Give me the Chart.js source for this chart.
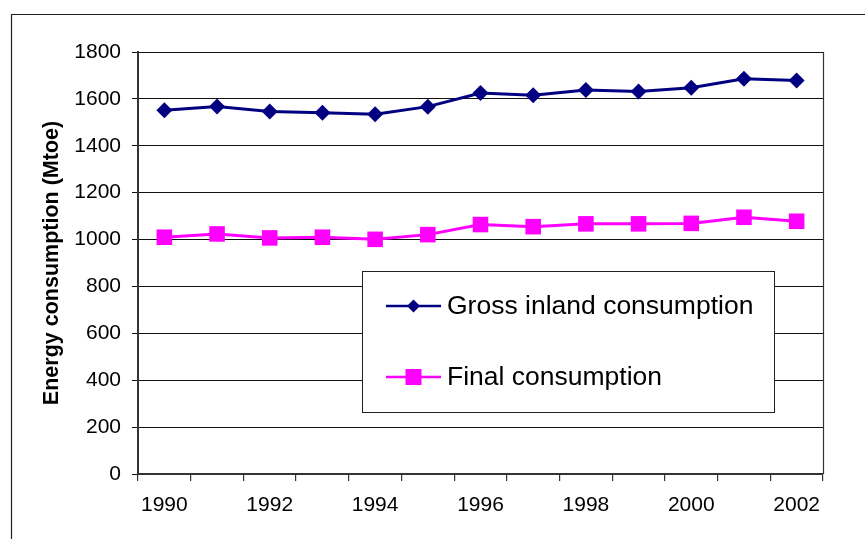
<!DOCTYPE html>
<html>
<head>
<meta charset="utf-8">
<script src="https://cdn.jsdelivr.net/npm/chart.js@4/dist/chart.umd.min.js"></script>
<style>
  html, body { margin: 0; padding: 0; background: #fff; }
  #wrap { position: relative; width: 865px; height: 539px; }
</style>
</head>
<body>
<div id="wrap"><canvas id="c" width="865" height="539"></canvas></div>
<script>
const years = ['1990','1991','1992','1993','1994','1995','1996','1997','1998','1999','2000','2001','2002'];
const grossInland = [1552, 1568, 1546, 1541, 1535, 1567, 1625, 1616, 1638, 1632, 1648, 1686, 1678];
const finalCons = [1010, 1024, 1007, 1010, 1001, 1021, 1064, 1055, 1067, 1067, 1069, 1095, 1078];
const seriesNames = ['Gross inland consumption', 'Final consumption'];
const yTitle = 'Energy consumption (Mtoe)';

const FONT = '"Liberation Sans", Arial, sans-serif';

const framePlugin = {
  id: 'frame',
  beforeDraw(chart) {
    const ctx = chart.ctx;
    ctx.save();
    ctx.fillStyle = '#fff';
    ctx.fillRect(0, 0, chart.width, chart.height);
    ctx.strokeStyle = '#222';
    ctx.lineWidth = 1.2;
    ctx.beginPath();
    ctx.moveTo(chart.width + 5, 14.5);
    ctx.lineTo(11.5, 14.5);
    ctx.lineTo(11.5, chart.height + 5);
    ctx.stroke();
    ctx.restore();
  },
  afterDraw(chart) {
    const ctx = chart.ctx;
    const a = chart.chartArea;
    ctx.save();
    ctx.strokeStyle = '#333';
    ctx.lineWidth = 1.2;
    ctx.beginPath();
    ctx.moveTo(Math.round(a.right) + 0.5, a.top);
    ctx.lineTo(Math.round(a.right) + 0.5, a.bottom);
    ctx.stroke();
    ctx.restore();
  }
};

const legendPlugin = {
  id: 'boxLegend',
  afterDatasetsDraw(chart) {
    const ctx = chart.ctx;
    const x0 = 362.5, y0 = 271.5, w = 412, h = 141;
    ctx.save();
    ctx.fillStyle = '#fff';
    ctx.fillRect(x0, y0, w, h);
    ctx.strokeStyle = '#222';
    ctx.lineWidth = 1;
    ctx.strokeRect(x0, y0, w, h);
    const rows = [306, 377];
    chart.data.datasets.forEach((ds, i) => {
      const y = rows[i];
      ctx.strokeStyle = ds.borderColor;
      ctx.lineWidth = 2.5;
      ctx.beginPath();
      ctx.moveTo(386, y);
      ctx.lineTo(441, y);
      ctx.stroke();
      ctx.fillStyle = ds.backgroundColor;
      ctx.beginPath();
      if (i === 0) {
        const r = 6.5, cx = 413.5;
        ctx.moveTo(cx, y - r); ctx.lineTo(cx + r, y); ctx.lineTo(cx, y + r); ctx.lineTo(cx - r, y);
        ctx.closePath();
      } else {
        ctx.rect(413.5 - 8, y - 8, 16, 16);
      }
      ctx.fill();
      ctx.fillStyle = '#000';
      ctx.font = '26.5px ' + FONT;
      ctx.textBaseline = 'middle';
      ctx.textAlign = 'left';
      ctx.fillText(ds.label, 447, y + 1);
    });
    ctx.restore();
  }
};

new Chart(document.getElementById('c'), {
  type: 'line',
  data: {
    labels: years,
    datasets: [
      {
        label: seriesNames[0],
        data: grossInland,
        borderColor: '#000080',
        backgroundColor: '#000080',
        borderWidth: 3,
        pointStyle: 'rectRot',
        pointRadius: 8,
        pointBorderWidth: 0,
        tension: 0
      },
      {
        label: seriesNames[1],
        data: finalCons,
        borderColor: '#FF00FF',
        backgroundColor: '#FF00FF',
        borderWidth: 3,
        pointStyle: 'rect',
        pointRadius: 11,
        pointBorderWidth: 0,
        tension: 0
      }
    ]
  },
  options: {
    responsive: false,
    animation: false,
    devicePixelRatio: 1,
    layout: { padding: { left: 39, top: 52, right: 42, bottom: 0 } },
    plugins: {
      legend: { display: false },
      tooltip: { enabled: false }
    },
    scales: {
      x: {
        type: 'category',
        offset: true,
        grid: {
          offset: true,
          drawOnChartArea: false,
          drawTicks: true,
          tickLength: 7,
          color: '#333',
          lineWidth: 1.2
        },
        border: { display: true, color: '#333', width: 2 },
        ticks: {
          autoSkip: false,
          maxRotation: 0,
          minRotation: 0,
          padding: 12,
          color: '#000',
          font: { family: FONT, size: 21 },
          callback: function(v, i) { return i % 2 === 0 ? this.getLabelForValue(v) : ''; }
        },
        afterFit(scale) { scale.height = 65; }
      },
      y: {
        min: 0,
        max: 1800,
        ticks: {
          stepSize: 200,
          padding: 11,
          color: '#000',
          font: { family: FONT, size: 21 },
          callback: (v) => String(v)
        },
        grid: {
          color: '#111',
          lineWidth: 1,
          tickLength: 6,
          drawTicks: true
        },
        border: { display: true, color: '#333', width: 2 },
        title: {
          display: true,
          text: yTitle,
          color: '#000',
          font: { family: FONT, size: 21.5, weight: 'bold' },
          padding: { top: 0, bottom: 0 }
        },
        afterFit(scale) { scale.width = 99; }
      }
    }
  },
  plugins: [framePlugin, legendPlugin]
});
</script>
</body>
</html>
